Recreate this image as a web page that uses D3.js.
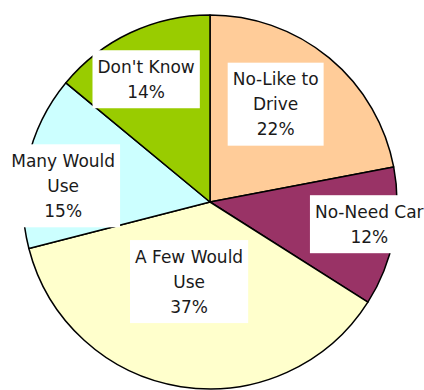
<!DOCTYPE html>
<html>
<head>
<meta charset="utf-8">
<script src="https://cdn.jsdelivr.net/npm/d3@7"></script>
<style>
  body { margin: 0; background: #fff; }
</style>
</head>
<body>
<div id="container"></div>
<script>
let w = 424;
let h = 390;

// data
let categories = ["No-Like to Drive", "No-Need Car", "A Few Would Use", "Many Would Use", "Don't Know"];
let values = [22, 12, 37, 15, 14];
let labelLines = [["No-Like to", "Drive"], ["No-Need Car"], ["A Few Would", "Use"], ["Many Would", "Use"], ["Don't Know"]];
let colors = ["#FFCC99", "#993366", "#FFFFCC", "#CCFFFF", "#99CC00"];

// where each label sits, as fraction of radius (layout only)
let labelRadius = [0.63, 0.86, 0.44, 0.79, 0.74];
let labelAngleShift = [-0.1, -0.05, 0.1, -0.11, -0.04];

let cx = 210, cy = 202, r = 187;
let lineH = 25;

let viz = d3.select("#container").append("svg")
  .attr("width", w)
  .attr("height", h)
  .style("background-color", "white");

let pie = d3.pie().sort(null).value(d => d);
let arcs = pie(values);
let arcMaker = d3.arc().innerRadius(0).outerRadius(r);

let g = viz.append("g").attr("transform", `translate(${cx},${cy})`);

g.selectAll(".slice").data(arcs).enter()
  .append("path")
  .attr("class", "slice")
  .attr("d", arcMaker)
  .attr("fill", (d, i) => colors[i])
  .attr("stroke", "#000")
  .attr("stroke-width", 1.5)
  .attr("stroke-linejoin", "round");

let total = d3.sum(values);

arcs.forEach(function(d, i){
  let mid = (d.startAngle + d.endAngle) / 2 + labelAngleShift[i];
  let lr = r * labelRadius[i];
  let x = lr * Math.sin(mid);
  let y = -lr * Math.cos(mid);
  let lines = labelLines[i].concat([Math.round(values[i] / total * 100) + "%"]);

  let lg = g.append("g").attr("transform", `translate(${x},${y})`);
  let rect = lg.append("rect").attr("fill", "white");
  let txt = lg.append("text")
    .attr("text-anchor", "middle")
    .style("font-family", "'DejaVu Sans', Verdana, sans-serif")
    .style("font-size", "17px")
    .attr("fill", "#1a1a1a");
  lines.forEach(function(l, j){
    txt.append("tspan")
      .attr("x", 0)
      .attr("y", (j - (lines.length - 1) / 2) * lineH)
      .attr("dy", "0.35em")
      .text(l);
  });
  let bb = txt.node().getBBox();
  let padX = 5;
  let boxH = lines.length * lineH + 8;
  rect.attr("x", bb.x - padX)
    .attr("y", -boxH / 2)
    .attr("width", bb.width + padX * 2)
    .attr("height", boxH);
});
</script>
</body>
</html>
